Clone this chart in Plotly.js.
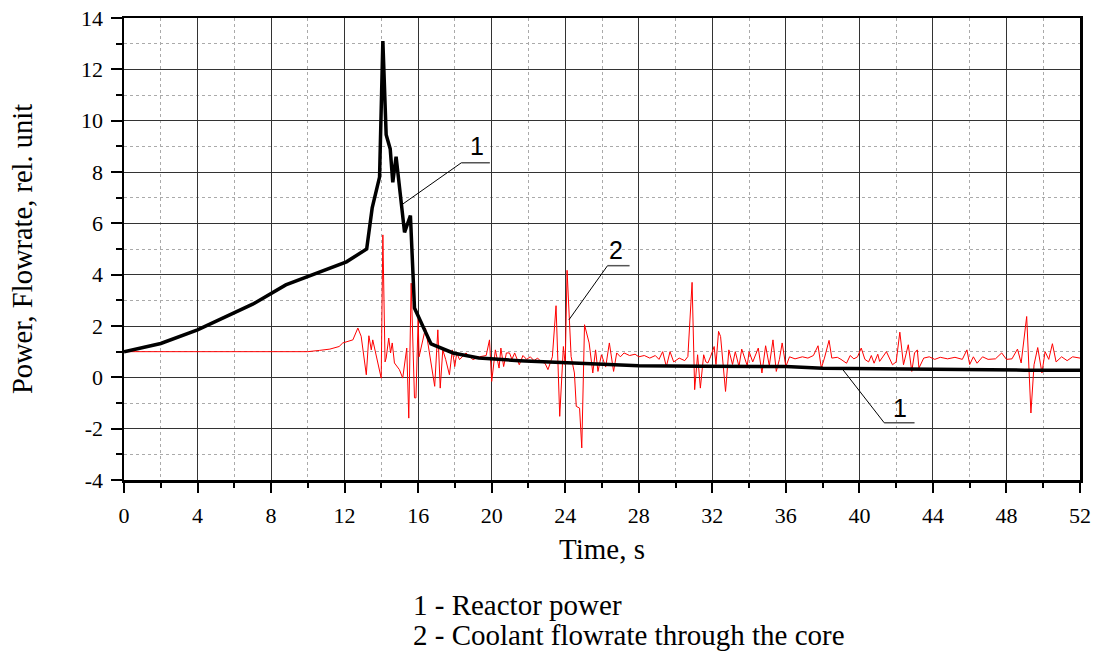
<!DOCTYPE html>
<html>
<head>
<meta charset="utf-8">
<script src="https://cdn.plot.ly/plotly-3.0.1.min.js"></script>
<style>html,body{margin:0;padding:0;background:#fff;}#chart{width:1100px;height:655px;}</style>
</head>
<body>
<div id="chart"></div>
<script>
// Reactor power (curve 1)
const powerTime = [0, 2, 4, 6, 7, 8.8, 10.5, 12.1, 13.2, 13.5, 13.9, 14.08, 14.26, 14.48, 14.62, 14.8, 15.26, 15.58, 15.8, 16.7, 17.9, 19.3, 21.5, 24, 26, 28, 31.3, 36, 38, 41.5, 46, 49, 52];
const powerValue = [1.0, 1.32, 1.85, 2.5, 2.85, 3.6, 4.05, 4.5, 5.0, 6.6, 7.8, 13.1, 9.45, 8.9, 7.6, 8.6, 5.65, 6.3, 2.7, 1.3, 0.95, 0.75, 0.65, 0.58, 0.5, 0.45, 0.43, 0.42, 0.35, 0.32, 0.3, 0.28, 0.28];

// Coolant flowrate through the core (curve 2)
const flowTime = [0, 10, 10.64, 11.2, 11.7, 11.9, 12.45, 12.72, 12.9, 13.18, 13.32, 13.45, 13.53, 13.8, 13.99, 14.08, 14.2, 14.26, 14.4, 14.5, 14.59, 14.71, 14.98, 15.16, 15.38, 15.49, 15.62, 15.8, 15.88, 16.0, 16.05, 16.4,
  16.6, 16.9, 17.07, 17.2, 17.34, 17.5, 17.7, 17.86, 17.99, 18.1, 18.25, 18.6, 18.98, 19.33, 19.7, 19.88, 20.0, 20.2, 20.4, 20.5, 20.65, 20.8, 20.97, 21.1, 21.25, 21.5, 21.7, 21.9, 22.1, 22.3, 22.5, 22.7, 22.9, 23.06, 23.3,
  23.5, 23.7, 23.9, 24.0, 24.1, 24.32, 24.5, 24.6, 24.78, 24.9, 25.05, 25.3, 25.5, 25.65, 25.78, 25.97, 26.2, 26.4, 26.63, 26.8, 27.0, 27.2, 27.5, 27.8, 28.0, 28.3, 28.6, 28.9, 29.1, 29.3, 29.5, 29.7, 29.9, 30.2, 30.5, 30.67,
  30.9, 31.04, 31.2, 31.35, 31.53, 31.65, 31.76, 31.9, 32.1, 32.2, 32.34, 32.45, 32.55, 32.72, 32.9, 33.1, 33.25, 33.45, 33.6, 33.75, 33.9, 34.0, 34.2, 34.5, 34.7, 34.9, 35.1, 35.3, 35.48, 35.65, 35.8, 36.0, 36.2, 36.5, 36.9,
  37.2, 37.5, 37.75, 37.93, 38.1, 38.35, 38.5, 38.8, 39.0, 39.3, 39.5, 39.7, 39.9, 40.1, 40.3, 40.5, 40.65, 40.8, 41.0, 41.1, 41.47, 41.8, 42.0, 42.2, 42.4, 42.66, 42.85, 43.0, 43.15, 43.24, 43.5, 43.8, 44.1, 44.4, 44.8,
  45.2, 45.6, 45.85, 46.0, 46.2, 46.4, 46.7, 47.0, 47.4, 47.74, 48.0, 48.3, 48.6, 48.8, 49.1, 49.33, 49.5, 49.7, 49.93, 50.1, 50.3, 50.5, 50.7, 51.0, 51.3, 51.6, 52];
const flowValue = [1.0, 1.0, 1.05, 1.1, 1.2, 1.34, 1.46, 1.92, 1.6, 0.1, 1.62, 1.07, 1.46, 0.56, -0.03, 5.55, 0.6, 0.75, 1.53, 0.95, 1.34, 0.56, 0.3, -0.03, 1.14, -1.59, 3.67, -0.8, -0.8, 2.3, 0.8, 1.92,
  1.07, -0.35, 1.85, -0.42, 1.07, 0.69, 0.1, 1.07, 0.42, 0.95, 0.69, 0.95, 0.69, 0.8, 0.85, 1.46, -0.16, 1.07, 0.36, 1.14, 0.42, 0.95, 0.95, 0.7, 0.95, 0.49, 0.85, 0.7, 0.8, 0.65, 0.75, 0.6, 0.55, 0.3, 0.8,
  2.79, -1.52, 1.2, 0.49, 4.17, 0.81, 0.17, -1.13, -1.2, -2.75, 2.05, 1.34, 0.17, 1.07, 0.23, 0.88, 0.4, 1.34, 0.23, 0.95, 0.8, 0.95, 0.85, 0.9, 0.8, 0.85, 0.75, 0.85, 0.7, 1.0, 0.42, 1.0, 0.6, 0.75, 0.65, 0.81,
  3.7, -0.48, 0.88, -0.42, 0.88, 0.6, 0.56, 0.8, 1.2, 0.5, 1.79, 1.59, 0.9, -0.55, 1.07, 0.5, 1.0, 0.42, 1.1, 0.8, 0.45, 1.0, 0.6, 1.14, 0.17, 1.23, 0.45, 1.46, 0.23, 0.7, 1.34, 0.42, 0.8, 0.72, 0.8,
  0.75, 0.85, 1.23, 0.36, 0.75, 1.44, 0.75, 0.78, 0.7, 0.55, 0.85, 0.72, 0.8, 1.14, 0.7, 0.6, 0.85, 0.55, 0.9, 0.62, 1.0, 0.49, 0.6, 1.76, 0.49, 1.27, 0.23, 0.95, 1.07, 0.36, 0.75, 0.8, 0.7, 0.78, 0.72,
  0.78, 0.7, 1.07, 0.5, 0.8, 0.55, 0.8, 0.7, 0.72, 0.95, 0.7, 0.72, 1.1, 0.56, 2.37, -1.39, 0.49, 1.16, 0.17, 1.0, 0.7, 1.31, 0.6, 0.8, 0.65, 0.8, 0.75];

const xTickVals = [0, 4, 8, 12, 16, 20, 24, 28, 32, 36, 40, 44, 48, 52];
const xTickText = ['0', '4', '8', '12', '16', '20', '24', '28', '32', '36', '40', '44', '48', '52'];
const yTickVals = [-4, -2, 0, 2, 4, 6, 8, 10, 12, 14];
const yTickText = ['-4', '-2', '0', '2', '4', '6', '8', '10', '12', '14'];

const xTitle = 'Time, s';
const yTitle = 'Power, Flowrate, rel. unit';
const legendLines = ['1 - Reactor power', '2 - Coolant flowrate through the core'];

// Callout labels: [label, textX, textY, underlineX0, underlineX1, underlineY, leaderEndX, leaderEndY]
const callouts = [
  ['1', 19.2, 9.0, 18.35, 19.9, 8.36, 15.16, 6.75],
  ['2', 26.75, 4.97, 26.3, 27.5, 4.35, 24.2, 2.24],
  ['1', 42.2, -1.18, 41.35, 43.0, -1.77, 39.1, 0.3]
];

const serif = 'Liberation Serif, Times New Roman, serif';

const traces = [
  {x: flowTime, y: flowValue, mode: 'lines', line: {color: '#ff0000', width: 1}, hoverinfo: 'skip', showlegend: false},
  {x: powerTime, y: powerValue, mode: 'lines', line: {color: '#000000', width: 3.5}, hoverinfo: 'skip', showlegend: false}
];

const shapes = [];
const annotations = [];
callouts.forEach(c => {
  shapes.push({type: 'line', xref: 'x', yref: 'y', x0: c[3], x1: c[4], y0: c[5], y1: c[5], line: {color: '#555', width: 1.5}});
  shapes.push({type: 'line', xref: 'x', yref: 'y', x0: c[3], x1: c[6], y0: c[5], y1: c[7], line: {color: '#000', width: 1}});
  annotations.push({x: c[1], y: c[2], xref: 'x', yref: 'y', text: c[0], showarrow: false,
    font: {family: 'Liberation Sans, Arial, sans-serif', size: 25, color: '#000'}});
});
legendLines.forEach((t, i) => {
  annotations.push({x: 0.3, y: -0.271 - i * 0.065, xref: 'paper', yref: 'paper', text: t, showarrow: false,
    xanchor: 'left', yanchor: 'middle', font: {family: serif, size: 29, color: '#000'}});
});

const layout = {
  width: 1100, height: 655,
  margin: {l: 124, r: 20, t: 18, b: 175},
  paper_bgcolor: '#fff', plot_bgcolor: '#fff',
  font: {family: serif, color: '#000', size: 22},
  showlegend: false,
  xaxis: {
    range: [0, 52], tickmode: 'array', tickvals: xTickVals, ticktext: xTickText,
    showline: true, linecolor: '#000', linewidth: 2.5, mirror: true,
    ticks: 'outside', ticklen: 10, tickwidth: 2, tickcolor: '#000', ticklabelstandoff: 4,
    showgrid: true, gridcolor: '#333', gridwidth: 1, zeroline: false,
    tickfont: {family: serif, size: 22},
    minor: {dtick: 2, tick0: 0, ticks: 'outside', ticklen: 5, tickwidth: 2, tickcolor: '#000', showgrid: true, gridcolor: '#aaa', griddash: 'dot', gridwidth: 1},
    title: {text: xTitle, font: {family: serif, size: 29}, standoff: 12}
  },
  yaxis: {
    range: [-4, 14], tickmode: 'array', tickvals: yTickVals, ticktext: yTickText,
    showline: true, linecolor: '#000', linewidth: 2.5, mirror: true,
    ticks: 'outside', ticklen: 11, tickwidth: 2, tickcolor: '#000', ticklabelstandoff: 3,
    showgrid: true, gridcolor: '#333', gridwidth: 1, zeroline: false,
    tickfont: {family: serif, size: 22},
    minor: {dtick: 1, tick0: 0, ticks: 'outside', ticklen: 6, tickwidth: 2, tickcolor: '#000', showgrid: true, gridcolor: '#aaa', griddash: 'dot', gridwidth: 1},
    title: {text: yTitle, font: {family: serif, size: 28.5}, standoff: 40}
  },
  shapes: shapes,
  annotations: annotations
};

Plotly.newPlot('chart', traces, layout, {staticPlot: true, displayModeBar: false});
</script>
</body>
</html>
